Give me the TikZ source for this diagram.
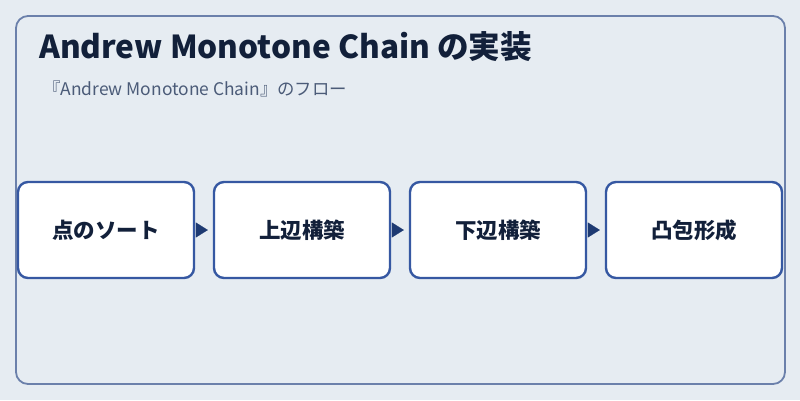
\documentclass[tikz,border=0pt]{standalone}
\usepackage{fontspec}
\setmainfont{Noto Sans CJK JP}
\usetikzlibrary{arrows.meta}
\definecolor{bgc}{HTML}{E6ECF2}
\definecolor{framec}{HTML}{6B80AB}
\definecolor{boxc}{HTML}{3658A2}
\definecolor{arrc}{HTML}{1E3A72}
\definecolor{titlec}{HTML}{12203A}
\definecolor{subc}{HTML}{4B5B78}
\tikzset{
  stepbox/.style={draw=boxc, line width=2.4pt, fill=white, rounded corners=10pt,
    minimum width=176pt, minimum height=96pt, inner sep=0pt,
    font=\fontsize{21.5}{25}\selectfont\bfseries, text=titlec},
  flow/.style={-{Triangle[length=12pt,width=15pt]}, draw=arrc, fill=arrc, line width=0.1pt,
    shorten <=1pt, shorten >=5pt}
}
\begin{document}
\begin{tikzpicture}[x=1pt,y=-1pt]
\useasboundingbox (0,0) rectangle (800,400);
\fill[bgc] (0,0) rectangle (800,400);
\draw[framec, line width=1.8pt, rounded corners=12pt] (16,16) rectangle (785,384);
\node[anchor=base west, text=titlec, font=\fontsize{31.6}{36}\selectfont\bfseries, inner sep=0pt] (title) at (39,58) {Andrew Monotone Chain の実装};
\node[anchor=base west, text=subc, font=\fontsize{17.4}{20}\selectfont, inner sep=0pt] (sub) at (43,95) {『Andrew Monotone Chain』のフロー};
\node[stepbox] (s1) at (106,230) {点のソート};
\node[stepbox] (s2) at (302,230) {上辺構築};
\node[stepbox] (s3) at (498,230) {下辺構築};
\node[stepbox] (s4) at (694,230) {凸包形成};
\draw[flow] (s1.east) -- (s2.west);
\draw[flow] (s2.east) -- (s3.west);
\draw[flow] (s3.east) -- (s4.west);
\end{tikzpicture}
\end{document}
